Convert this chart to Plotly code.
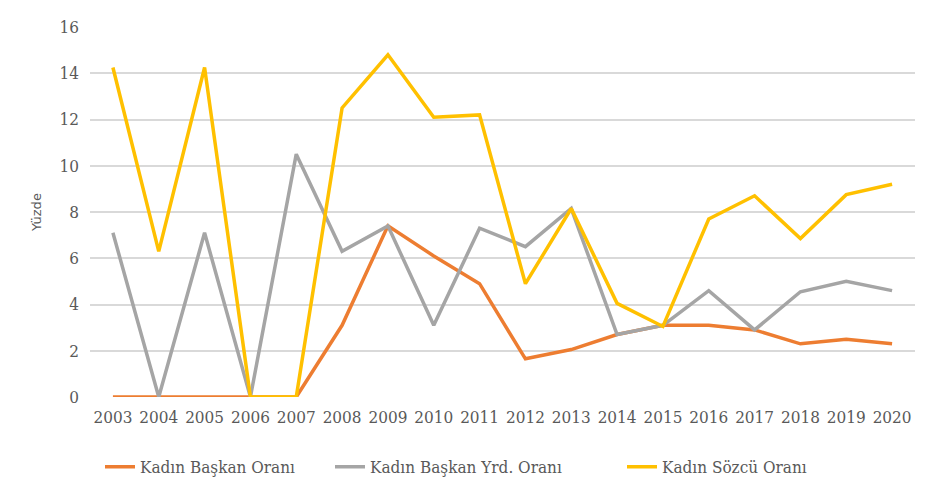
import plotly.graph_objects as go

years = [str(y) for y in range(2003, 2021)]
baskan = [0, 0, 0, 0, 0, 3.1, 7.4, 6.1, 4.9, 1.65, 2.05, 2.7, 3.1, 3.1, 2.9, 2.3, 2.5, 2.3]
baskan_yrd = [7.1, 0, 7.1, 0, 10.5, 6.3, 7.4, 3.1, 7.3, 6.5, 8.15, 2.7, 3.1, 4.6, 2.9, 4.55, 5.0, 4.6]
sozcu = [14.25, 6.3, 14.25, 0, 0, 12.5, 14.8, 12.1, 12.2, 4.9, 8.15, 4.05, 3.05, 7.7, 8.7, 6.85, 8.75, 9.2]
names = ["Kadın Başkan Oranı", "Kadın Başkan Yrd. Oranı", "Kadın Sözcü Oranı"]
colors = ["#ED7D31", "#A5A5A5", "#FFC000"]

SERIF = "DejaVu Serif Condensed"
TXT = "#595959"

# page body has an 8px offset; figure drawn at (8, 8)
W, H = 923, 495
ml, mr, mt, mb = 82, 16, 19, 106
pw, ph = W - ml - mr, H - mt - mb

legend_ids = ["legend", "legend2", "legend3"]
legend_x_page = [100, 330, 622]   # left edge of each legend entry on the page

fig = go.Figure()
for name, vals, col, lid in zip(names, [baskan, baskan_yrd, sozcu], colors, legend_ids):
    fig.add_trace(go.Scatter(x=years, y=vals, mode="lines", name=name, legend=lid,
                             line=dict(color=col, width=3.5)))

legend_common = dict(orientation="h", xanchor="left", y=-0.19, yanchor="middle",
                     font=dict(family=SERIF, size=17, color=TXT),
                     itemwidth=30, bgcolor="rgba(0,0,0,0)")
legends = {}
for lid, xp in zip(legend_ids, legend_x_page):
    legends[lid] = dict(legend_common, x=(xp - 90) / pw)

fig.update_layout(
    width=W, height=H,
    margin=dict(l=ml, r=mr, t=mt, b=mb, autoexpand=False),
    paper_bgcolor="white", plot_bgcolor="white",
    font=dict(family=SERIF, color=TXT, size=17),
    xaxis=dict(type="category", range=[-0.5, 17.5], showgrid=False, zeroline=False,
               showline=False, ticks="", tickangle=0, automargin=False,
               ticklabelstandoff=8,
               tickfont=dict(family=SERIF, size=17, color=TXT)),
    yaxis=dict(range=[0, 16], dtick=2, showgrid=True, gridcolor="#D9D9D9", gridwidth=1.5,
               zeroline=False, showline=False, ticks="", automargin=False,
               ticklabelstandoff=10,
               tickfont=dict(family=SERIF, size=17, color=TXT),
               title=dict(text="Yüzde", font=dict(family="DejaVu Sans", size=13, color=TXT),
                          standoff=14)),
    showlegend=True,
    **legends,
)

fig.write_html("out.html")
